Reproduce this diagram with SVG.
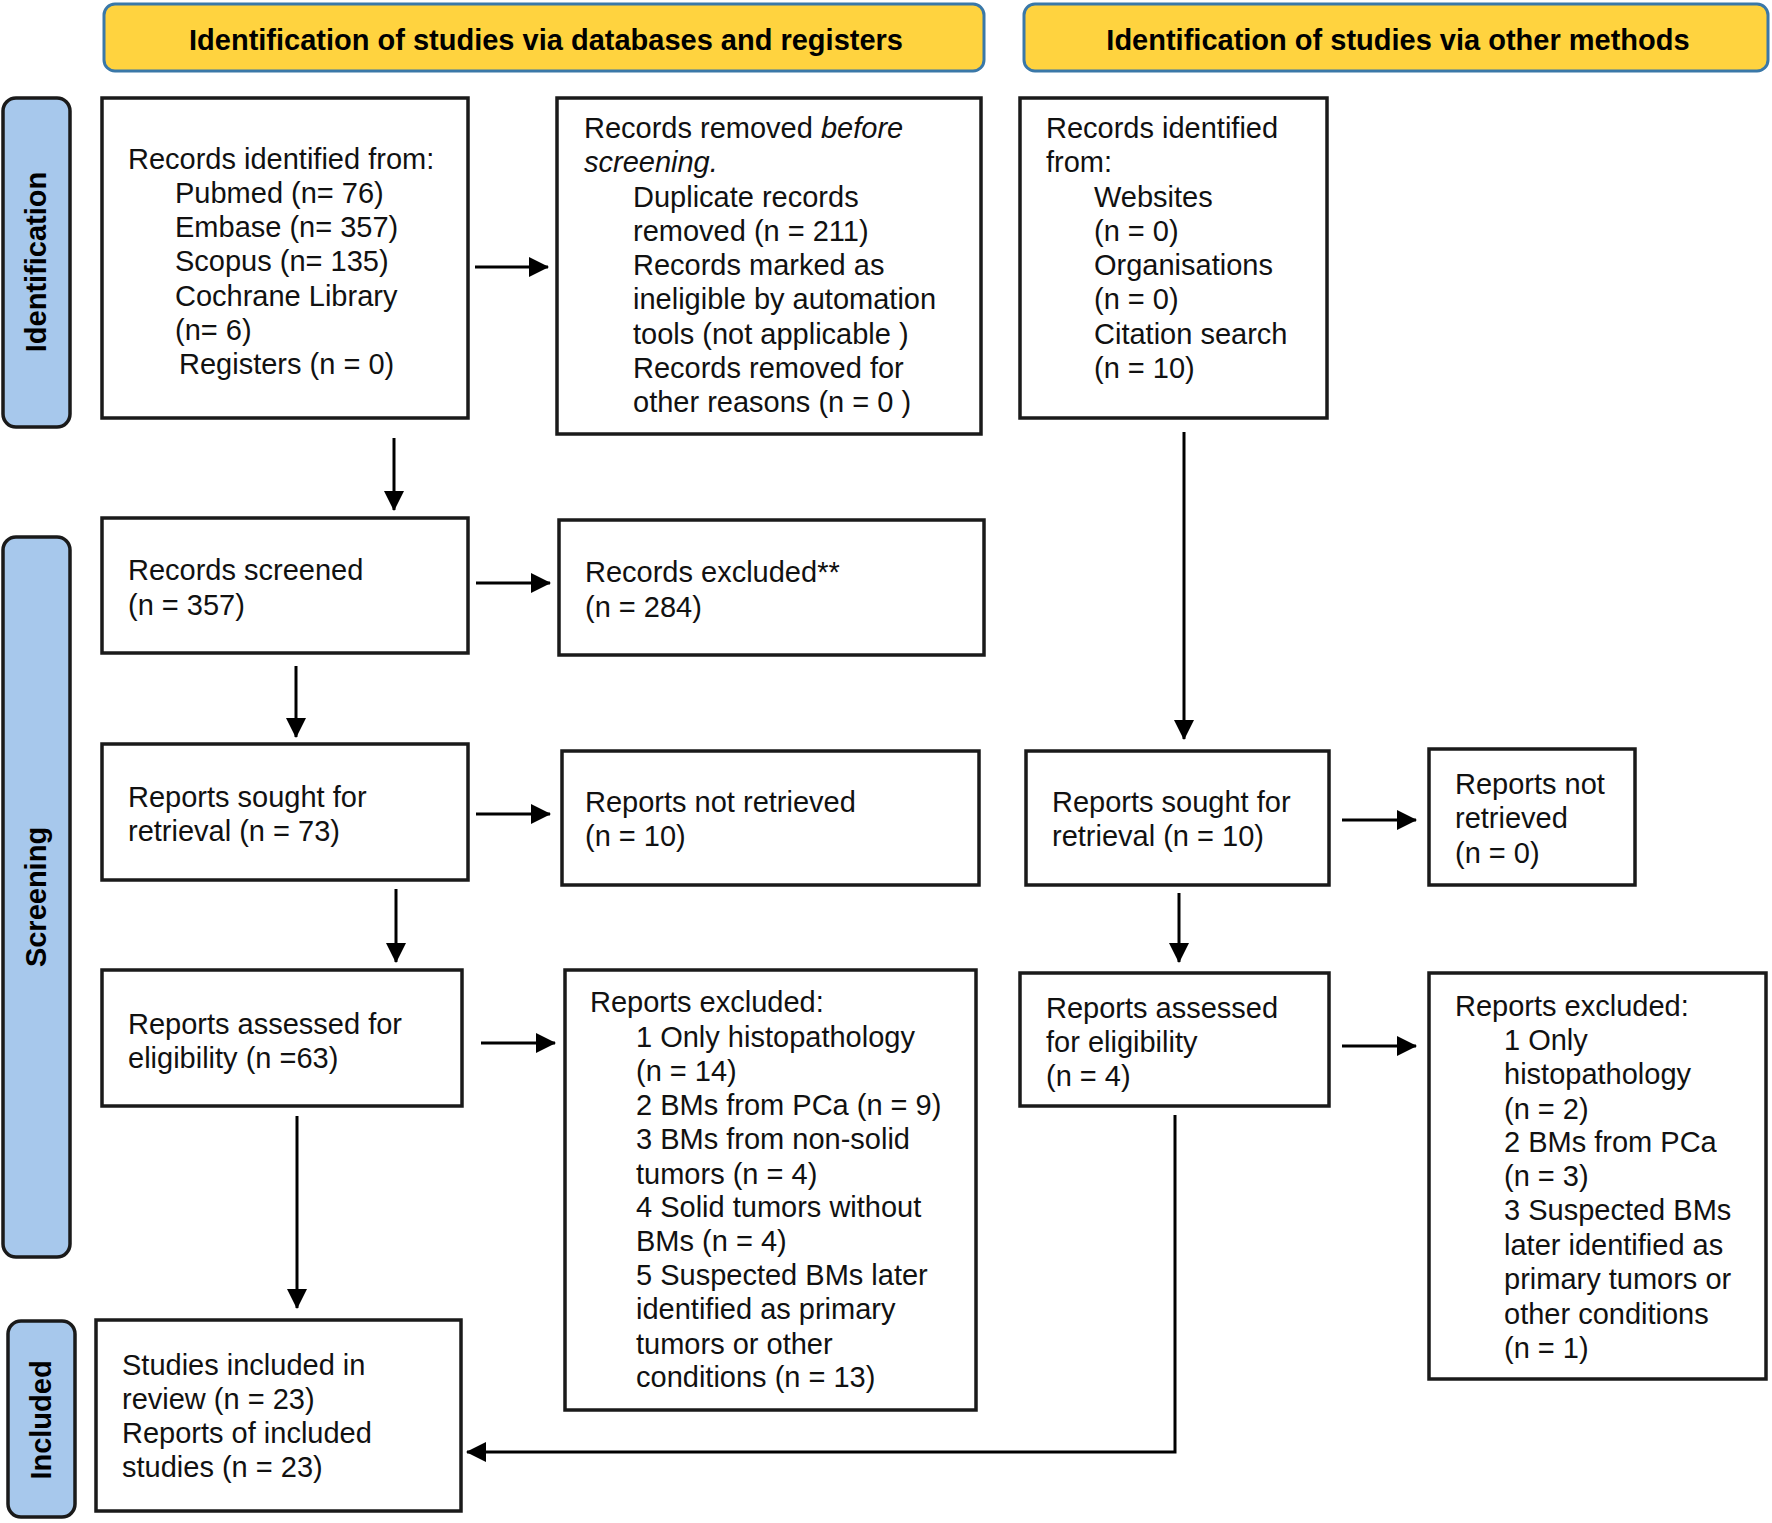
<svg xmlns="http://www.w3.org/2000/svg" width="1772" height="1523" viewBox="0 0 1772 1523">
<defs>
<marker id="ah" markerWidth="20" markerHeight="20" refX="19" refY="10" orient="auto" markerUnits="userSpaceOnUse">
<path d="M0,0 L20,10 L0,20 Z" fill="#000"/>
</marker>
<style>
.hdr{fill:#FFD33F;stroke:#3A78A8;stroke-width:3}
.side{fill:#A7C8EC;stroke:#1a1a1a;stroke-width:3.5}
.box{fill:#fff;stroke:#1a1a1a;stroke-width:3.5}
.ht{font-family:"Liberation Sans",Arial,sans-serif;font-weight:bold;font-size:29px;fill:#000}
.t{font-family:"Liberation Sans",Arial,sans-serif;font-size:29px;fill:#111}
.c{stroke:#000;stroke-width:3;fill:none}
</style>
</defs>

<g id="header-databases">
<rect class="hdr" x="104" y="4" width="880" height="67" rx="11"/>
<text class="ht" x="546" y="50" text-anchor="middle">Identification of studies via databases and registers</text>
</g>
<g id="header-other">
<rect class="hdr" x="1024" y="4" width="744" height="67" rx="11"/>
<text class="ht" x="1398" y="50" text-anchor="middle">Identification of studies via other methods</text>
</g>

<g id="side-identification">
<rect class="side" x="3" y="98" width="67" height="329" rx="13"/>
<text class="ht" transform="translate(46,262) rotate(-90)" text-anchor="middle">Identification</text>
</g>
<g id="side-screening">
<rect class="side" x="3" y="537" width="67" height="720" rx="13"/>
<text class="ht" transform="translate(46,897) rotate(-90)" text-anchor="middle">Screening</text>
</g>
<g id="side-included">
<rect class="side" x="8" y="1321" width="67" height="196" rx="13"/>
<text class="ht" transform="translate(51,1420) rotate(-90)" text-anchor="middle">Included</text>
</g>

<g id="records-identified-db">
<rect class="box" x="102" y="98" width="366" height="320"/>
<text class="t" x="128" y="169">Records identified  from:</text>
<text class="t" x="175" y="203">Pubmed (n= 76)</text>
<text class="t" x="175" y="237">Embase (n= 357)</text>
<text class="t" x="175" y="271">Scopus  (n= 135)</text>
<text class="t" x="175" y="306">Cochrane Library</text>
<text class="t" x="175" y="340">(n= 6)</text>
<text class="t" x="179" y="374">Registers (n  = 0)</text>
</g>

<g id="records-removed">
<rect class="box" x="557" y="98" width="424" height="336"/>
<text class="t" x="584" y="138">Records removed <tspan font-style="italic">before</tspan></text>
<text class="t" x="584" y="172" font-style="italic">screening.</text>
<text class="t" x="633" y="207">Duplicate records</text>
<text class="t" x="633" y="241">removed  (n = 211)</text>
<text class="t" x="633" y="275">Records marked as</text>
<text class="t" x="633" y="309">ineligible  by automation</text>
<text class="t" x="633" y="344">tools (not applicable  )</text>
<text class="t" x="633" y="378">Records removed for</text>
<text class="t" x="633" y="412">other reasons (n = 0 )</text>
</g>

<g id="records-identified-other">
<rect class="box" x="1020" y="98" width="307" height="320"/>
<text class="t" x="1046" y="138">Records identified</text>
<text class="t" x="1046" y="172">from:</text>
<text class="t" x="1094" y="207">Websites</text>
<text class="t" x="1094" y="241">(n = 0)</text>
<text class="t" x="1094" y="275">Organisations</text>
<text class="t" x="1094" y="309">(n = 0)</text>
<text class="t" x="1094" y="344">Citation  search</text>
<text class="t" x="1094" y="378">(n = 10)</text>
</g>

<g id="records-screened">
<rect class="box" x="102" y="518" width="366" height="135"/>
<text class="t" x="128" y="580">Records screened</text>
<text class="t" x="128" y="615">(n = 357)</text>
</g>

<g id="records-excluded">
<rect class="box" x="559" y="520" width="425" height="135"/>
<text class="t" x="585" y="582">Records excluded**</text>
<text class="t" x="585" y="617">(n = 284)</text>
</g>

<g id="reports-sought-db">
<rect class="box" x="102" y="744" width="366" height="136"/>
<text class="t" x="128" y="807">Reports sought for</text>
<text class="t" x="128" y="841">retrieval (n = 73)</text>
</g>

<g id="reports-not-retrieved-db">
<rect class="box" x="562" y="751" width="417" height="134"/>
<text class="t" x="585" y="812">Reports not retrieved</text>
<text class="t" x="585" y="846">(n = 10)</text>
</g>

<g id="reports-assessed-db">
<rect class="box" x="102" y="970" width="360" height="136"/>
<text class="t" x="128" y="1034">Reports assessed for</text>
<text class="t" x="128" y="1068">eligibility  (n =63)</text>
</g>

<g id="reports-excluded-db">
<rect class="box" x="565" y="970" width="411" height="440"/>
<text class="t" x="590" y="1012">Reports excluded:</text>
<text class="t" x="636" y="1047">1 Only  histopathology</text>
<text class="t" x="636" y="1081">(n = 14)</text>
<text class="t" x="636" y="1115">2 BMs from PCa (n = 9)</text>
<text class="t" x="636" y="1149">3 BMs from non-solid</text>
<text class="t" x="636" y="1184">tumors  (n = 4)</text>
<text class="t" x="636" y="1217">4 Solid  tumors without</text>
<text class="t" x="636" y="1251">BMs  (n = 4)</text>
<text class="t" x="636" y="1285">5 Suspected BMs later</text>
<text class="t" x="636" y="1319">identified  as primary</text>
<text class="t" x="636" y="1354">tumors or other</text>
<text class="t" x="636" y="1387">conditions  (n = 13)</text>
</g>

<g id="studies-included">
<rect class="box" x="96" y="1320" width="365" height="191"/>
<text class="t" x="122" y="1375">Studies  included  in</text>
<text class="t" x="122" y="1409">review (n = 23)</text>
<text class="t" x="122" y="1443">Reports of included</text>
<text class="t" x="122" y="1477">studies (n = 23)</text>
</g>

<g id="reports-sought-other">
<rect class="box" x="1026" y="751" width="303" height="134"/>
<text class="t" x="1052" y="812">Reports sought for</text>
<text class="t" x="1052" y="846">retrieval (n = 10)</text>
</g>

<g id="reports-not-retrieved-other">
<rect class="box" x="1429" y="749" width="206" height="136"/>
<text class="t" x="1455" y="794">Reports not</text>
<text class="t" x="1455" y="828">retrieved</text>
<text class="t" x="1455" y="863">(n = 0)</text>
</g>

<g id="reports-assessed-other">
<rect class="box" x="1020" y="973" width="309" height="133"/>
<text class="t" x="1046" y="1018">Reports assessed</text>
<text class="t" x="1046" y="1052">for eligibility</text>
<text class="t" x="1046" y="1086">(n = 4)</text>
</g>

<g id="reports-excluded-other">
<rect class="box" x="1429" y="973" width="337" height="406"/>
<text class="t" x="1455" y="1016">Reports excluded:</text>
<text class="t" x="1504" y="1050">1 Only</text>
<text class="t" x="1504" y="1084">histopathology</text>
<text class="t" x="1504" y="1119">(n = 2)</text>
<text class="t" x="1504" y="1152">2 BMs from PCa</text>
<text class="t" x="1504" y="1186">(n = 3)</text>
<text class="t" x="1504" y="1220">3 Suspected BMs</text>
<text class="t" x="1504" y="1255">later identified  as</text>
<text class="t" x="1504" y="1289">primary tumors or</text>
<text class="t" x="1504" y="1324">other conditions</text>
<text class="t" x="1504" y="1358">(n = 1)</text>
</g>

<g id="connectors">
<line class="c" x1="475" y1="267" x2="548" y2="267" marker-end="url(#ah)"/>
<line class="c" x1="394" y1="438" x2="394" y2="510" marker-end="url(#ah)"/>
<line class="c" x1="476" y1="583" x2="550" y2="583" marker-end="url(#ah)"/>
<line class="c" x1="296" y1="666" x2="296" y2="737" marker-end="url(#ah)"/>
<line class="c" x1="476" y1="814" x2="550" y2="814" marker-end="url(#ah)"/>
<line class="c" x1="396" y1="889" x2="396" y2="962" marker-end="url(#ah)"/>
<line class="c" x1="481" y1="1043" x2="555" y2="1043" marker-end="url(#ah)"/>
<line class="c" x1="297" y1="1116" x2="297" y2="1308" marker-end="url(#ah)"/>
<line class="c" x1="1184" y1="432" x2="1184" y2="739" marker-end="url(#ah)"/>
<line class="c" x1="1342" y1="820" x2="1416" y2="820" marker-end="url(#ah)"/>
<line class="c" x1="1179" y1="893" x2="1179" y2="962" marker-end="url(#ah)"/>
<line class="c" x1="1342" y1="1046" x2="1416" y2="1046" marker-end="url(#ah)"/>
<polyline class="c" points="1175,1115 1175,1452 467,1452" marker-end="url(#ah)"/>
</g>
</svg>
